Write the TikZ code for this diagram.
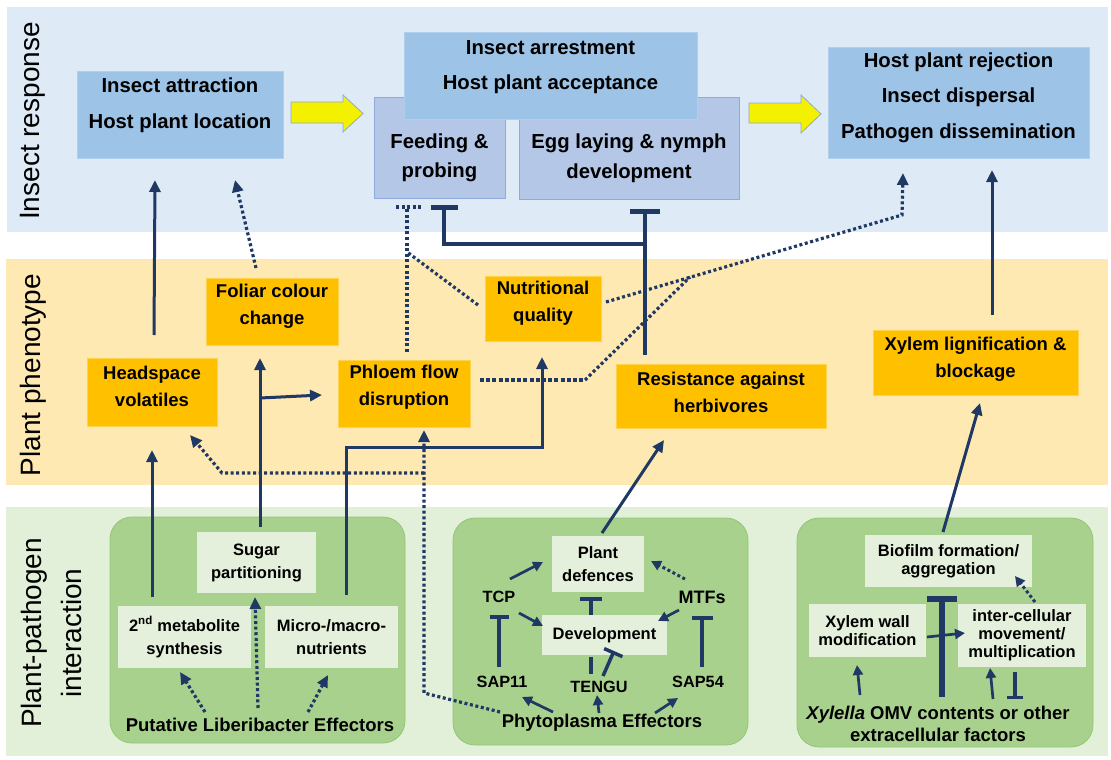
\documentclass[tikz,border=0pt]{standalone}
\usepackage{fontspec}
\setmainfont{Liberation Sans}
\usetikzlibrary{arrows.meta}
\definecolor{bandblue}{HTML}{DEEBF7}
\definecolor{bandyel}{HTML}{FFE9B3}
\definecolor{bandgrn}{HTML}{E2F0D9}
\definecolor{boxblue}{HTML}{9DC3E6}
\definecolor{boxblueln}{HTML}{B0CFEC}
\definecolor{boxlav}{HTML}{B4C7E7}
\definecolor{lavline}{HTML}{8FAADC}
\definecolor{boxorg}{HTML}{FFC000}
\definecolor{orgline}{HTML}{FFD24D}
\definecolor{contgrn}{HTML}{A9D18E}
\definecolor{contline}{HTML}{92C873}
\definecolor{innergrn}{HTML}{E4F0DB}
\definecolor{navy}{HTML}{1F3864}
\definecolor{arryel}{HTML}{F3F000}
\definecolor{arrline}{HTML}{8FA9C6}
\tikzset{
 box/.style={rectangle, inner sep=0pt, outer sep=0pt},
 topbox/.style={box, fill=boxblue, draw=boxblueln, line width=0.6pt},
 lavbox/.style={box, fill=boxlav, draw=lavline, line width=0.8pt},
 orgbox/.style={box, fill=boxorg, draw=orgline, line width=0.6pt},
 inbox/.style={box, fill=innergrn, align=center, font=\bfseries\fontsize{16.5}{23}\selectfont},
 inboxr/.style={inbox, font=\bfseries\fontsize{16.5}{18}\selectfont},
 cont/.style={box, rounded corners=22pt, fill=contgrn, draw=contline, line width=0.8pt},
 toptxt/.style={inner sep=0pt, align=center, font=\bfseries\fontsize{20.3}{35.5}\selectfont},
 lavtxt/.style={inner sep=0pt, align=center, font=\bfseries\fontsize{20.3}{29.5}\selectfont},
 orgtxt/.style={inner sep=0pt, align=center, font=\bfseries\fontsize{18.5}{27}\selectfont},
 lbl/.style={inner sep=0pt, font=\bfseries\fontsize{16.3}{19}\selectfont},
 efftxt/.style={inner sep=0pt, align=center, font=\bfseries\fontsize{18.5}{22}\selectfont},
 bandlbl/.style={rotate=90, inner sep=0pt, align=center, font=\fontsize{28}{40}\selectfont},
 con/.style={draw=navy, line width=3pt},
 arr/.style={con, -{Triangle[length=12pt,width=11pt]}},
 sarr/.style={con, line width=2.7pt, -{Triangle[length=10pt,width=10pt]}},
 dline/.style={draw=navy, line width=3.2pt, dash pattern=on 3pt off 2.6pt},
 darr/.style={dline, -{Triangle[length=12pt,width=11pt]}},
 sdarr/.style={dline, line width=3pt, -{Triangle[length=10pt,width=10pt]}},
 inh/.style={con, line width=4.5pt, -{Bar[width=28pt]}},
 sinh/.style={con, line width=3.5pt, -{Bar[width=21pt]}},
 yarr/.style={fill=arryel, draw=arrline, line width=0.8pt},
}
\begin{document}
\begin{tikzpicture}[x=1pt,y=-1pt]
\useasboundingbox (0,0) rectangle (1111,760);
% bands
\fill[bandblue] (7,7) rectangle (1108,232);
\fill[bandyel] (6,259) rectangle (1108,485);
\fill[bandgrn] (6,507) rectangle (1108,756);
\node[bandlbl] (lblins) at (33,121) {Insect response};
\node[bandlbl] (lblphe) at (33,375) {Plant phenotype};
\node[bandlbl] (lblpp) at (51,633) {Plant-pathogen\\interaction};
% containers
\node[cont, minimum width=295pt, minimum height=226pt] (lcont) at (257.5,630) {};
\node[cont, minimum width=295pt, minimum height=227pt] (mcont) at (600.5,631.5) {};
\node[cont, minimum width=296pt, minimum height=229pt] (rcont) at (945,632.5) {};
% insect response boxes
\node[topbox, minimum width=206pt, minimum height=87pt] (attr) at (180,114.5) {};
\node[toptxt] (attrt) at ([shift={(0,-9)}]attr.center) {Insect attraction\\Host plant location};
\node[lavbox, minimum width=131pt, minimum height=101pt] (feed) at (439.5,147.5) {};
\node[lavbox, minimum width=220pt, minimum height=102pt] (egg) at (629,148) {};
\node[lavtxt] (feedt) at (439.5,158) {Feeding \&\\probing};
\node[lavtxt] (eggt) at (629,158.5) {Egg laying \& nymph\\development};
\node[topbox, minimum width=293pt, minimum height=87pt] (arrest) at (550.5,75.5) {};
\node[toptxt] (arrestt) at ([shift={(0,-8.5)}]arrest.center) {Insect arrestment\\Host plant acceptance};
\node[topbox, minimum width=261pt, minimum height=111pt] (reject) at (958.5,102.5) {};
\node[toptxt] (rejectt) at ([shift={(0,-5)}]reject.center) {Host plant rejection\\Insect dispersal\\Pathogen dissemination};
\draw[yarr] (291,102) -- (343,102) -- (343,95) -- (363,113.5) -- (343,132) -- (343,123) -- (291,123) -- cycle;
\draw[yarr] (749,103) -- (801,103) -- (801,95) -- (821,114) -- (801,133) -- (801,123) -- (749,123) -- cycle;
% phenotype boxes
\node[orgbox, minimum width=132pt, minimum height=67pt] (foliar) at (272,311.5) {};
\node[orgtxt] (foliart) at ([shift={(0,-5)}]foliar.center) {Foliar colour\\change};
\node[orgbox, minimum width=130pt, minimum height=68pt] (head) at (152,392) {};
\node[orgtxt] (headt) at ([shift={(0,-5.5)}]head.center) {Headspace\\volatiles};
\node[orgbox, minimum width=132pt, minimum height=67pt] (phloem) at (404,393.5) {};
\node[orgtxt] (phloemt) at ([shift={(0,-6)}]phloem.center) {Phloem flow\\disruption};
\node[orgbox, minimum width=116pt, minimum height=65pt] (nutri) at (543,308.5) {};
\node[orgtxt] (nutrit) at ([shift={(0,-5)}]nutri.center) {Nutritional\\quality};
\node[orgbox, minimum width=210pt, minimum height=64pt] (resist) at (721,396) {};
\node[orgtxt] (resistt) at ([shift={(0,-4)}]resist.center) {Resistance against\\herbivores};
\node[orgbox, minimum width=205pt, minimum height=65pt] (xylig) at (975.5,362.5) {};
\node[orgtxt] (xyligt) at ([shift={(0,-3.5)}]xylig.center) {Xylem lignification \&\\blockage};
% left container
\node[inbox, minimum width=119pt, minimum height=61pt] (sugar) at (256.5,562.5) {Sugar\\partitioning};
\node[inbox, minimum width=133pt, minimum height=62pt] (meta) at (184.5,637) {2\textsuperscript{nd} metabolite\\synthesis};
\node[inbox, minimum width=133pt, minimum height=62pt] (micro) at (331.5,637) {Micro-/macro-\\nutrients};
\node[efftxt] (libe) at (260,725) {Putative Liberibacter Effectors};
% middle container
\node[inbox, minimum width=92pt, minimum height=56pt] (pdef) at (598,564) {Plant\\defences};
\node[inbox, minimum width=125pt, minimum height=40pt] (devel) at (604.5,635) {Development};
\node[lbl] (tcp) at (499,597) {TCP};
\node[lbl, font=\bfseries\fontsize{18}{20}\selectfont] (mtfs) at (702,597) {MTFs};
\node[lbl] (sap11) at (502,682) {SAP11};
\node[lbl] (tengu) at (599,687) {TENGU};
\node[lbl] (sap54) at (698,682) {SAP54};
\node[efftxt] (phyto) at (602,723) {Phytoplasma Effectors};
% right container
\node[inboxr, minimum width=167pt, minimum height=52pt] (biofilm) at (948.5,561) {Biofilm formation/\\aggregation};
\node[inboxr, minimum width=117pt, minimum height=53pt] (xwall) at (867.5,630.5) {Xylem wall\\modification};
\node[inboxr, minimum width=128pt, minimum height=63pt] (inter) at (1022,635.5) {inter-cellular\\movement/\\multiplication};
\node[efftxt] (xylella) at (938,724) {\textit{Xylella} OMV contents or other\\extracellular factors};
% connectors: upper part
\draw[arr] ([shift={(2,-23)}]head.north) -- ([shift={(-25,22)}]attr.south);
\draw[darr] ([shift={(-16,-10)}]foliar.north) -- ([shift={(55,22)}]attr.south);
\draw[arr] ([shift={(-32.5,-9)}]meta.north) -- ([shift={(0,24)}]head.south);
\draw[arr] ([shift={(3.5,-5)}]sugar.north) -- ([shift={(-12,13)}]foliar.south);
\coordinate (sbr) at ([shift={(3.5,-134)}]sugar.north);
\draw[arr] (sbr) -- ([shift={(-16,1.5)}]phloem.west);
\draw[arr] ([shift={(14.5,-11)}]micro.north) -- ++(0,-148) -| ([shift={(-1,16)}]nutri.south);
\draw[darr] ([shift={(-55,-13)}]libe.center) -- ([shift={(-4.5,4)}]meta.south);
\draw[darr] ([shift={(-2,-17)}]libe.center) -- ([shift={(-1.5,4)}]sugar.south);
\draw[darr] ([shift={(48,-13)}]libe.center) -- ([shift={(-3.5,7)}]micro.south);
\draw[darr] ([shift={(-102,-11)}]phyto.center) -- ++(-76,-19) -- ([shift={(20,3)}]phloem.south);
\coordinate (pbr) at ([shift={(20,46)}]phloem.south);
\draw[darr] (pbr) -- ++(-202,0) -- ([shift={(38,9)}]head.south);
\coordinate (fbar) at ([shift={(-32.5,9)}]feed.south);
\draw[dline] ([shift={(3,-8)}]phloem.north) -- (fbar);
\draw[dline] ([shift={(-11,0)}]fbar) -- ([shift={(14,0)}]fbar);
\draw[dline] ([shift={(-7,-3.5)}]nutri.west) -- ([shift={(0,45)}]fbar);
\draw[inh, -{Bar[width=30pt]}, line join=miter] ([shift={(-76,-9)}]resist.north) -- ([shift={(16,10)}]egg.south);
\draw[inh, -{Bar[width=27pt]}, line join=miter] ([shift={(16,45)}]egg.south) -| ([shift={(4.5,7)}]feed.south);
\coordinate (nbend) at ([shift={(-56.5,57)}]reject.south);
\draw[darr] ([shift={(5,-6.5)}]nutri.east) -- (nbend) -- ([shift={(-55.5,15)}]reject.south);
\coordinate (pjoin) at ([shift={(-212,62)}]nbend);
\draw[dline, line width=4.5pt, dash pattern=on 4pt off 2.2pt] ([shift={(10,-13.5)}]phloem.east) -- ++(105,0) coordinate (pturn);
\draw[dline] (pturn) -- (pjoin);
\draw[arr] ([shift={(16.5,-15)}]xylig.north) -- ([shift={(33.5,12)}]reject.south);
\draw[arr] ([shift={(-5.5,-3)}]biofilm.north) -- ([shift={(4.5,8)}]xylig.south);
\draw[arr] ([shift={(4,-3)}]pdef.north) -- ([shift={(-57,12)}]resist.south);
% middle container connectors
\draw[sarr] ([shift={(11,-18)}]tcp.center) -- ([shift={(-9,-2)}]pdef.west);
\draw[sdarr] ([shift={(-17,-18)}]mtfs.center) -- ([shift={(7,-3)}]pdef.east);
\draw[sinh, -{Bar[width=22pt]}] ([shift={(-13.5,0)}]devel.north) -- ([shift={(-7,5)}]pdef.south);
\draw[sarr] ([shift={(20,16)}]tcp.center) -- ([shift={(1,-9)}]devel.west);
\draw[sarr] ([shift={(-23,13)}]mtfs.center) -- ([shift={(-9,-14)}]devel.east);
\draw[sinh, -{Bar[width=19pt]}] ([shift={(-3,-15)}]sap11.center) -- ([shift={(0,18)}]tcp.center);
\draw[sinh] ([shift={(4,-15)}]sap54.center) -- ([shift={(0,19)}]mtfs.center);
\draw[con, line width=3.5pt] ([shift={(-8,-13)}]tengu.center) -- ([shift={(-13.5,2)}]devel.south);
\draw[sinh, -{Bar[width=20pt]}] ([shift={(4,-11)}]tengu.center) -- ([shift={(9.5,-4)}]devel.south);
\draw[sarr] ([shift={(-49,-11)}]phyto.center) -- ([shift={(20,15)}]sap11.center);
\draw[sarr] ([shift={(-3,-10)}]phyto.center) -- ([shift={(-2,8)}]tengu.center);
\draw[sarr] ([shift={(53,-10)}]phyto.center) -- ([shift={(-20,16)}]sap54.center);
% right container connectors
\draw[inh, line width=5.5pt, -{Bar[width=30pt]}] ([shift={(4,-27)}]xylella.center) -- ([shift={(-6.5,9)}]biofilm.south);
\draw[sarr] ([shift={(1,6.5)}]xwall.east) -- ([shift={(7,-2.5)}]inter.west);
\draw[sarr] ([shift={(-78,-29)}]xylella.center) -- ([shift={(-10.5,8)}]xwall.south);
\draw[sarr] ([shift={(55,-25)}]xylella.center) -- ([shift={(-32,1)}]inter.south);
\draw[sinh, -{Bar[width=16pt]}] ([shift={(-7,5)}]inter.south) -- ([shift={(77,-25)}]xylella.center);
\draw[sdarr] ([shift={(13,-2)}]inter.north) -- ([shift={(66.5,-11)}]biofilm.south);
\end{tikzpicture}
\end{document}
